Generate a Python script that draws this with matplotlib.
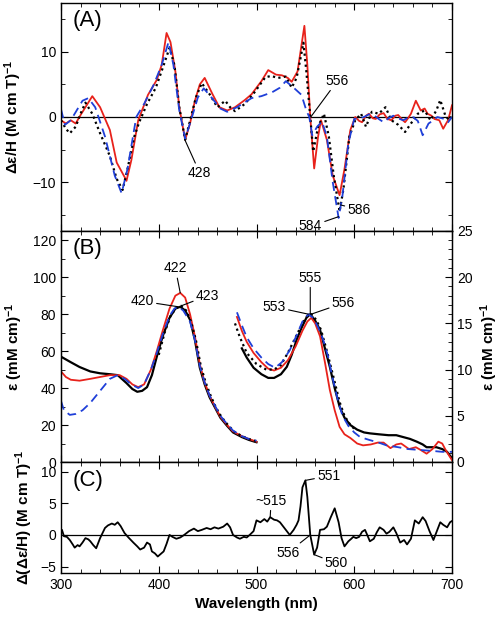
import matplotlib
matplotlib.use("Agg")
import matplotlib.pyplot as plt
from matplotlib.ticker import MultipleLocator

plt.rcParams['font.family'] = ['Liberation Sans', 'DejaVu Sans']
plt.rcParams['mathtext.default'] = 'regular'

# panel A: MCD spectra
a_red_wl = [300, 305, 310, 315, 320, 325, 332, 340, 350, 357, 365, 367, 372, 379, 389, 398, 403, 408, 412,
            417, 421, 427, 432, 437, 442, 447, 455, 462, 470, 478, 488, 495, 505, 512, 520, 526, 532, 536,
            542, 546, 549, 552, 555, 559, 563, 566, 572, 578, 585, 590, 596, 601, 605, 608, 612, 615, 619,
            622, 626, 630, 634, 638, 642, 645, 649, 652, 655, 658, 663, 668, 672, 675, 679, 682, 687, 691,
            694, 696, 700]
a_red = [-0.5, -1, -0.5, -1, 0.3, 1.5, 3.2, 1.5, -2.0, -7, -9.2, -9.8, -6.6, -0.5, 3.4, 5.7, 8, 12.9, 11.5,
         7, 1.5, -3.5, -1, 2.5, 5, 6, 3.5, 1.5, 1, 1.5, 2.6, 3.5, 5.5, 7.2, 6.5, 6.4, 6.0, 5.4,
         7, 11, 14, 8, 0, -7.9, -3, -0.5, -3.5, -9, -12, -8, -2, 0, -0.6, -0.8, 0.2, 0.5, -0.2,
         -0.3, 0.4, 0.6, -0.3, -0.5, 0.2, 0.3, -0.4, -0.8, -0.2, 0.5, 2.5, 1, 1.3, 0.5, 0.2, -0.3, -0.5, -1.8,
         -1.0, -0.5, 1.8]

a_blue_wl = [300, 304, 310, 318, 322, 328, 335, 345, 355, 362, 368, 377, 385, 395, 403, 410, 415, 421, 427,
             433, 440, 446, 455, 463, 470, 480, 495, 505, 516, 524, 530, 538, 546, 551, 554, 557, 562, 567,
             572, 578, 584, 588, 594, 600, 605, 610, 615, 620, 625, 630, 635, 640, 645, 650, 655, 660, 665,
             670, 676, 681, 685, 692, 696, 700]
a_blue = [1.2, -1.2, -0.5, 1.5, 2.5, 2.9, 1.5, -3, -9, -11.7, -8, 0, 2, 5, 8, 11.5, 8, 1, -3.3,
          -0.5, 3, 4.4, 2.8, 1.3, 0.8, 1.5, 2.9, 3.2, 3.8, 4.5, 5.5, 4.5, 3.4, 1, 0, -2.8, -1.5, -0.7,
          -3, -10, -15.5, -12, -4, -0.3, -0.2, 0, 0.4, 0.3, -0.3, -0.8, -0.2, 0.2, -0.2, -0.5, -0.1, 0, -0.6,
          -2.8, -1.0, -0.5, 0, -0.3, -0.8, 0]

a_blk_wl = [300, 305, 309, 315, 320, 325, 332, 340, 350, 357, 363, 368, 375, 380, 388, 397, 404, 411, 416,
            421, 427, 433, 438, 444, 452, 460, 468, 473, 478, 488, 498, 509, 515, 522, 530, 536, 541, 545,
            548, 551, 555, 558, 563, 569, 574, 579, 585, 589, 595, 601, 607, 612, 618, 625, 632, 638, 645,
            652, 658, 665, 672, 678, 684, 688, 693, 697, 700]
a_blk = [-0.5, -1.8, -2.5, -1.5, 0.5, 2.2, 0.5, -2.5, -6, -9.5, -11.2, -8, -3, -0.8, 2, 4.5, 7.5, 10.6, 8,
         1.5, -3.5, 0, 3, 5.2, 3.5, 1.5, 2.5, 1.5, 0.9, 2, 3.8, 6.1, 6.3, 6, 6.2, 4.5, 6, 9,
         11.4, 7, 0, -5.3, -1.5, 0.5, -3, -9, -14.5, -11, -3, -0.5, 0.5, -1.5, 0.8, 0.5, 1.5, -0.5, -1.2,
         -2.3, -1, 0.5, 1, -0.5, 1, 2.6, 0.3, -0.5, 0.5]

# panel B: absorption, Soret region (left axis)
b1_blk_wl = [300, 310, 319, 330, 340, 350, 358, 367, 373, 378, 383, 388, 393, 398, 404, 411, 417, 422, 427,
             432, 437, 442, 447, 452, 458, 463, 470, 476, 485, 492, 498, 500]
b1_blk = [57, 54, 51.4, 49, 48, 47.5, 47, 42.7, 39.5, 38, 38.5, 40.5, 47, 57, 68, 78, 83, 84, 82,
          77, 66, 51, 42, 35, 29, 24, 19.5, 16, 13.5, 12, 11, 10.7]
b1_red_wl = [300, 305, 310, 319, 330, 340, 350, 360, 367, 373, 379, 385, 392, 398, 404, 411, 417, 422, 427,
             432, 437, 442, 447, 452, 458, 463, 470, 476, 485, 492, 500]
b1_red = [49, 46, 44.5, 44, 45, 46, 47, 47, 45, 42, 40.5, 42, 50, 60, 71, 83, 90, 91.5, 89,
          80, 68, 53, 43, 36, 29.5, 24.5, 20, 16.5, 14, 12.5, 11]
b1_blue_wl = [300, 303, 309, 315, 322, 330, 340, 350, 358, 365, 372, 379, 385, 392, 398, 404, 411, 416, 420,
              425, 432, 437, 442, 447, 452, 458, 463, 470, 476, 485, 492, 500]
b1_blue = [33, 28, 25.5, 26, 28, 32, 38.5, 45, 47, 45, 42, 40, 42, 50, 59, 69, 79, 83, 84,
           82, 76, 66, 52, 43, 36, 30, 25, 20.5, 17, 14, 12.5, 11.5]
b1_dot_wl = [400, 406, 412, 418, 423, 428, 433, 438, 443, 448, 453, 458, 464, 470, 477, 485, 492, 500]
b1_dot = [58, 70, 79, 83.5, 84.5, 82, 76, 66, 52, 43, 36, 30, 24.5, 20.5, 16.5, 14, 12.5, 11.2]

# panel B: visible region (right axis)
b2_blk_wl = [485, 490, 497, 505, 512, 518, 525, 531, 536, 541, 546, 551, 555, 560, 565, 570, 575, 580, 585,
             590, 596, 603, 610, 616, 625, 635, 643, 650, 657, 664, 670, 674, 684, 690, 695, 700]
b2_blk = [12.3, 11.3, 10.2, 9.5, 9.1, 9.1, 9.5, 10.3, 11.6, 13.2, 14.5, 15.6, 16, 15.3, 14.3, 12.3, 10.3, 8, 6,
          4.8, 4, 3.5, 3.2, 3.1, 3.0, 2.9, 2.9, 2.7, 2.5, 2.2, 1.9, 1.6, 1.6, 1.4, 1.1, 0.4]
b2_dot_wl = [478, 483, 490, 500, 510, 518, 525, 532, 540, 547, 552, 556, 561, 566, 572, 578, 585, 590, 596, 600]
b2_dot = [15, 13.5, 11.8, 10.6, 10, 10, 10.5, 11.8, 13.5, 15, 15.8, 16, 15.4, 14.3, 12, 9.5, 6.5, 5, 4, 3.6]
b2_red_wl = [480, 485, 490, 497, 505, 512, 518, 525, 532, 540, 547, 552, 556, 560, 565, 570, 575, 580, 585,
             590, 596, 603, 609, 617, 624, 630, 637, 643, 648, 656, 663, 668, 674, 680, 686, 690, 693, 697, 700]
b2_red = [15.7, 14.2, 13, 11.8, 10.8, 10.1, 9.9, 10.2, 11, 12.5, 14.2, 15.2, 15.6, 15, 13.6, 10.8, 7.8, 5.6, 3.8,
          3, 2.6, 2, 1.8, 1.9, 2.1, 2.1, 1.5, 1.9, 2.0, 1.4, 1.6, 1.3, 0.9, 1.4, 2.2, 2.0, 1.4, 0.7, 0.2]
b2_blue_wl = [480, 485, 490, 497, 505, 512, 519, 526, 534, 541, 547, 553, 558, 563, 568, 573, 578, 583, 588,
              594, 600, 606, 615, 625, 633, 645, 655, 667, 680, 690, 700]
b2_blue = [16.2, 14.8, 13.5, 12.3, 11.3, 10.6, 10.2, 10.8, 12.1, 13.7, 15.2, 16, 15.6, 14.6, 13.3, 11.5, 9, 6.8, 5,
           3.9, 3.2, 2.7, 2.4, 2.1, 1.8, 1.6, 1.4, 1.3, 1.2, 1.1, 1.1]

# panel C: difference MCD
c_wl = [300, 301, 303, 306, 309, 312, 314, 317, 319, 322, 325, 328, 330, 333, 336, 340, 345, 348, 352, 355,
        358, 361, 365, 369, 374, 378, 381, 385, 388, 391, 393, 396, 399, 402, 405, 408, 411, 414, 418, 422,
        426, 431, 436, 440, 444, 449, 453, 457, 461, 466, 470, 473, 476, 480, 483, 487, 490, 493, 497, 500,
        504, 508, 511, 514, 518, 521, 524, 528, 531, 534, 538, 541, 543, 545, 547, 550, 552, 555, 559,
        562, 565, 569, 572, 576, 580, 584, 587, 590, 594, 597, 599, 602, 605, 608, 611, 613, 616, 620,
        623, 626, 630, 633, 636, 640, 643, 647, 651, 654, 658, 662, 666, 670, 673, 677, 681, 684, 688,
        691, 695, 698, 700]
c_val = [0.5, 0.8, -0.2, -0.3, -0.8, -1.5, -2.0, -1.6, -1.8, -1.2, -0.5, -0.7, -1, -1.6, -2.1, -0.5, 1.1, 1.5,
         1.8, 1.6, 2.0, 1.4, 0.3, -0.4, -1.2, -1.8, -2.3, -2.0, -1.2, -1.5, -2.6, -2.9, -3.4, -3.0, -2.6,
         -1.4, 0, -0.3, -0.6, -0.4, 0, 0.6, 1.0, 0.6, 0.8, 1.1, 0.9, 1.2, 1.0, 1.3, 1.8, 1.2, 0, -0.4, -0.6,
         -0.3, -0.4, 0, 0.6, 2.3, 2.0, 2.5, 2.1, 2.8, 2.4, 2.3, 2.0, 1.2, 0.6, 0, 0.8, 1.6, 2.3, 4.5, 7.5,
         8.6, 6, 0, -3.1, -2.0, 0.8, 0.9, 1.3, 2.8, 4.2, 2.0, -0.5, -1.8, -1.0, -0.6, -0.3, -0.5, -0.3,
         0.5, 0.8, 0.1, -1.0, -0.6, 0.4, 1.2, 0.8, 0.2, 0.5, 1.2, 0.3, -1.2, -0.8, -1.5, -0.6, 2.3, 1.8,
         2.8, 2.2, 0.6, -0.8, 0.4, 2.0, 1.6, 1.2, 2.0, 2.2]

RED = '#e8221b'
BLUE = '#1f3fd8'
LW = 1.3

fig = plt.figure(figsize=(5.04, 6.19), dpi=100)
W, H = 504, 619
L, R = 61 / W, 452 / W
axA = fig.add_axes([L, 1 - 231 / H, R - L, 228 / H])
axB = fig.add_axes([L, 1 - 462 / H, R - L, 231 / H])
axC = fig.add_axes([L, 1 - 573 / H, R - L, 111 / H])
axB2 = axB.twinx()

for ax in (axA, axB, axC):
    ax.set_xlim(300, 700)
    ax.xaxis.set_major_locator(MultipleLocator(100))
    ax.xaxis.set_minor_locator(MultipleLocator(20))
    ax.tick_params(which='both', direction='in', top=True, labelsize=10)
    ax.tick_params(which='major', length=5)
    ax.tick_params(which='minor', length=3)
    for s in ax.spines.values():
        s.set_linewidth(1.0)

# ---- A
axA.axhline(0, color='black', lw=0.9)
axA.plot(a_red_wl, a_red, color=RED, lw=LW)
axA.plot(a_blk_wl, a_blk, color='black', lw=1.6, ls=(0, (1, 1.5)))
axA.plot(a_blue_wl, a_blue, color=BLUE, lw=LW, ls=(0, (5, 3)))
axA.set_ylim(-17.5, 17.5)
axA.yaxis.set_major_locator(MultipleLocator(10))
axA.yaxis.set_minor_locator(MultipleLocator(5))
axA.tick_params(which='both', right=True, labelbottom=False)
axA.set_ylabel('Δε/H (M cm T)$^{-1}$', fontsize=11, fontweight='bold', labelpad=6)
axA.text(0.03, 0.97, '(A)', transform=axA.transAxes, fontsize=16, va='top')
arrow = dict(arrowstyle='-', lw=0.8, shrinkA=0, shrinkB=0)
axA.annotate('428', xy=(427, -3.6), xytext=(430, -7.5), fontsize=10, ha='left', va='top', arrowprops=arrow)
axA.annotate('556', xy=(555.5, 0), xytext=(571, 4.5), fontsize=10, ha='left', va='bottom', arrowprops=arrow)
axA.annotate('586', xy=(586, -13.5), xytext=(593, -14.2), fontsize=10, ha='left', va='center', arrowprops=arrow)
axA.annotate('584', xy=(584, -15.3), xytext=(567, -16.8), fontsize=10, ha='right', va='center', arrowprops=arrow)

# ---- B
axB.plot(b1_blk_wl, b1_blk, color='black', lw=1.6)
axB.plot(b1_red_wl, b1_red, color=RED, lw=LW)
axB.plot(b1_dot_wl, b1_dot, color='black', lw=1.6, ls=(0, (1, 1.5)))
axB.plot(b1_blue_wl, b1_blue, color=BLUE, lw=LW, ls=(0, (5, 3)))
axB.set_ylim(0, 125)
axB.yaxis.set_major_locator(MultipleLocator(20))
axB.yaxis.set_minor_locator(MultipleLocator(10))
axB.tick_params(which='both', right=False, labelbottom=False)
axB.set_ylabel('ε (mM cm)$^{-1}$', fontsize=11, fontweight='bold', labelpad=6)
axB.text(0.03, 0.97, '(B)', transform=axB.transAxes, fontsize=16, va='top')

axB2.plot(b2_blk_wl, b2_blk, color='black', lw=1.6)
axB2.plot(b2_red_wl, b2_red, color=RED, lw=LW)
axB2.plot(b2_dot_wl, b2_dot, color='black', lw=1.6, ls=(0, (1, 1.5)))
axB2.plot(b2_blue_wl, b2_blue, color=BLUE, lw=LW, ls=(0, (5, 3)))
axB2.set_ylim(0, 25)
axB2.yaxis.set_major_locator(MultipleLocator(5))
axB2.yaxis.set_minor_locator(MultipleLocator(1))
axB2.tick_params(which='both', direction='in', labelsize=10)
axB2.tick_params(which='major', length=5)
axB2.tick_params(which='minor', length=3)
axB2.set_ylabel('ε (mM cm)$^{-1}$', fontsize=11, fontweight='bold', labelpad=4)

axB.annotate('422', xy=(422, 91.5), xytext=(417, 101), fontsize=10, ha='center', va='bottom', arrowprops=arrow)
axB.annotate('420', xy=(420, 84), xytext=(395, 87), fontsize=10, ha='right', va='center', arrowprops=arrow)
axB.annotate('423', xy=(423, 84.5), xytext=(438, 90), fontsize=10, ha='left', va='center', arrowprops=arrow)
axB2.annotate('555', xy=(555, 16), xytext=(555, 19.2), fontsize=10, ha='center', va='bottom', arrowprops=arrow)
axB2.annotate('553', xy=(553, 16), xytext=(530, 16.8), fontsize=10, ha='right', va='center', arrowprops=arrow)
axB2.annotate('556', xy=(556, 16), xytext=(577, 17.2), fontsize=10, ha='left', va='center', arrowprops=arrow)

# ---- C
axC.axhline(0, color='black', lw=0.9)
axC.plot(c_wl, c_val, color='black', lw=1.3)
axC.set_ylim(-6, 11.5)
axC.yaxis.set_major_locator(MultipleLocator(5))
axC.tick_params(which='both', right=True)
axC.set_ylabel('Δ(Δε/H) (M cm T)$^{-1}$', fontsize=11, fontweight='bold', labelpad=4)
axC.set_xlabel('Wavelength (nm)', fontsize=11, fontweight='bold', labelpad=4)
axC.text(0.03, 0.93, '(C)', transform=axC.transAxes, fontsize=16, va='top')
axC.annotate('~515', xy=(514, 2.8), xytext=(515, 4.3), fontsize=10, ha='center', va='bottom', arrowprops=arrow)
axC.annotate('551', xy=(550, 8.6), xytext=(562, 9.3), fontsize=10, ha='left', va='center', arrowprops=arrow)
axC.annotate('556', xy=(555, 0), xytext=(544, -2.8), fontsize=10, ha='right', va='center', arrowprops=arrow)
axC.annotate('560', xy=(559, -3.1), xytext=(570, -4.5), fontsize=10, ha='left', va='center', arrowprops=arrow)

fig.savefig('out.png', dpi=100)
